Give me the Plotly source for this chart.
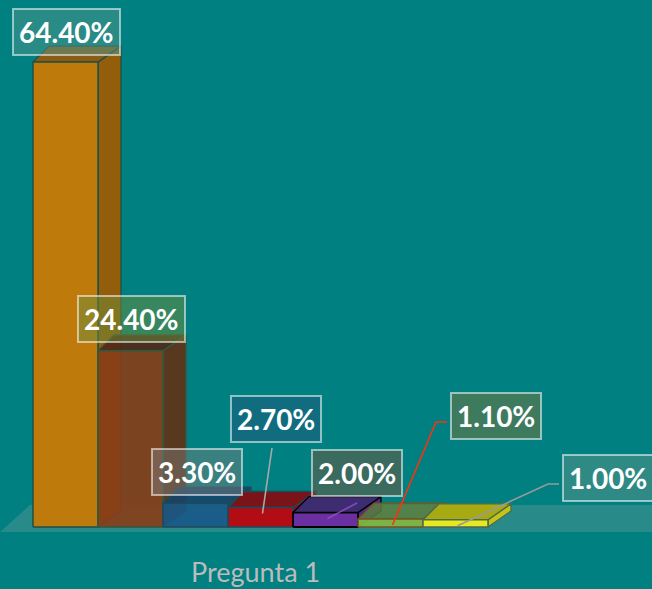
import plotly.graph_objects as go

# ---------------- data ----------------
categories = ["Pregunta 1"]
series_names = ["S1", "S2", "S3", "S4", "S5", "S6", "S7"]
values = [64.4, 24.4, 3.3, 2.7, 2.0, 1.1, 1.0]
value_labels = ["64.40%", "24.40%", "3.30%", "2.70%", "2.00%", "1.10%", "1.00%"]

# ---------------- styles ----------------
front_colors = ["#BF7A0C", "rgba(135,62,25,0.92)", "rgba(24,88,135,0.9)", "#B20C14",
                "#6A30A2", "rgba(126,182,66,0.95)", "#E8E820"]
side_colors = ["#935E0B", "rgba(95,50,22,0.92)", "rgba(22,72,110,0.9)", "#861014",
               "#4B2A86", "rgba(96,140,60,0.9)", "#C4C418"]
top_colors = ["#8C5C14", "rgba(80,40,22,0.9)", "rgba(22,68,105,0.9)", "#7A1418",
              "#3E2C70", "rgba(92,126,62,0.85)", "#A8AA12"]
edge_colors = ["#1d5048", "#2f5a40", "#1d4a5a", "#1d4a5a", "#000000", "#7a5020", "#4a6a50"]
box_fills = ["rgba(80,150,140,0.5)", "rgba(110,140,60,0.5)", "rgba(128,128,128,0.45)",
             "rgba(40,84,126,0.45)", "rgba(118,84,60,0.5)", "rgba(124,116,60,0.5)",
             "rgba(94,148,138,0.5)"]
# label box centre offsets from bar top-centre, in pixels (dx right, dy up)
label_shift = [(1, 30.5), (1, 31.5), (1, 31), (15.5, 89), (31, 39.6), (105, 103), (152, 42)]

W, H = 652, 589
BG = "#008080"
px_per_x = 65.0
x0_px = 65.5          # pixel of category index 0
base_px = 527.0       # pixel of value 0
px_per_y = 7.22

xr = [-x0_px / px_per_x, (W - x0_px) / px_per_x]
yr = [-(H - base_px) / px_per_y, base_px / px_per_y]

dxr = 23 / px_per_x
dxl = 16 / px_per_x
dy = 16 / px_per_y


def to_data(px, py):
    return (px - x0_px) / px_per_x, (base_px - py) / px_per_y


fig = go.Figure()

# floor
fig.add_shape(type="path",
              path=f"M 0 {1-532/H} L 1 {1-532/H} L 1 {1-505/H} L {30/W} {1-505/H} Z",
              xref="paper", yref="paper", fillcolor="rgba(90,150,150,0.45)",
              line=dict(width=0), layer="below")

for i, v in enumerate(values):
    L, R = i - 0.5, i + 0.5
    # side face
    fig.add_trace(go.Scatter(
        x=[R, R + dxr, R + dxr, R, R], y=[0, dy, v + dy, v, 0],
        fill="toself", fillcolor=side_colors[i], mode="lines",
        line=dict(color=edge_colors[i], width=1.3), hoverinfo="skip", showlegend=False))
    # top face
    fig.add_trace(go.Scatter(
        x=[L, L + dxl, R + dxr, R, L], y=[v, v + dy, v + dy, v, v],
        fill="toself", fillcolor=top_colors[i], mode="lines",
        line=dict(color=edge_colors[i], width=1.3), hoverinfo="skip", showlegend=False))
    # front face
    fig.add_trace(go.Scatter(
        x=[L, R, R, L, L], y=[0, 0, v, v, 0],
        fill="toself", fillcolor=front_colors[i], mode="lines",
        line=dict(color=edge_colors[i], width=1.8 if i == 4 else 1.5),
        name=series_names[i], hoverinfo="skip", showlegend=False))

# leader lines (from label box edge to bar top)
leaders = [
    (3, [(272 - 260.5, 442 - 507.5)], "#a8a8a8"),
    (4, [(357 - 325.5, 497 - 512.6)], "rgba(150,80,210,0.8)"),
    (5, [(447 - 390.5, 416 - 519), (436 - 390.5, 416 - 519)], "#ff3010"),
    (6, [(559 - 455.5, 478 - 519.8), (548 - 455.5, 478 - 519.8)], "#9a9a9a"),
]
for i, pts, col in leaders:
    tpx = x0_px + px_per_x * i
    tpy = base_px - px_per_y * values[i]
    xs, ys = [], []
    for ox, oy in pts:
        dxp, dyp = to_data(tpx + ox, tpy + oy + 6)
        xs.append(dxp)
        ys.append(dyp)
    bx, by = to_data(tpx + 2, tpy + 6)
    xs.append(bx)
    ys.append(by)
    fig.add_trace(go.Scatter(x=xs, y=ys, mode="lines", line=dict(color=col, width=1.6),
                             hoverinfo="skip", showlegend=False))

# labels
for i, v in enumerate(values):
    sx, sy = label_shift[i]
    fig.add_annotation(
        x=i, y=v, xref="x", yref="y", text=f"<b>{value_labels[i]}</b>",
        showarrow=False, xshift=sx, yshift=sy,
        font=dict(family="Lato, Open Sans, sans-serif", size=28, color="white"),
        bgcolor=box_fills[i], bordercolor="rgba(255,255,255,0.55)", borderwidth=2,
        borderpad=5)

# category axis label
fig.add_annotation(x=2.93, y=to_data(0, 571)[1], xref="x", yref="y", text=categories[0],
                   showarrow=False,
                   font=dict(family="Lato, Open Sans, sans-serif", size=27, color="#bcbcbc"))

fig.update_layout(
    width=W, height=H, margin=dict(l=0, r=0, t=0, b=0),
    paper_bgcolor=BG, plot_bgcolor=BG,
    xaxis=dict(range=xr, visible=False, fixedrange=True),
    yaxis=dict(range=yr, visible=False, fixedrange=True),
    showlegend=False,
)

fig.write_html("out.html", config={"displayModeBar": False, "staticPlot": True},
               post_script="document.body.style.margin='0';document.body.style.padding='0';"
                           "document.body.style.overflow='hidden';")
